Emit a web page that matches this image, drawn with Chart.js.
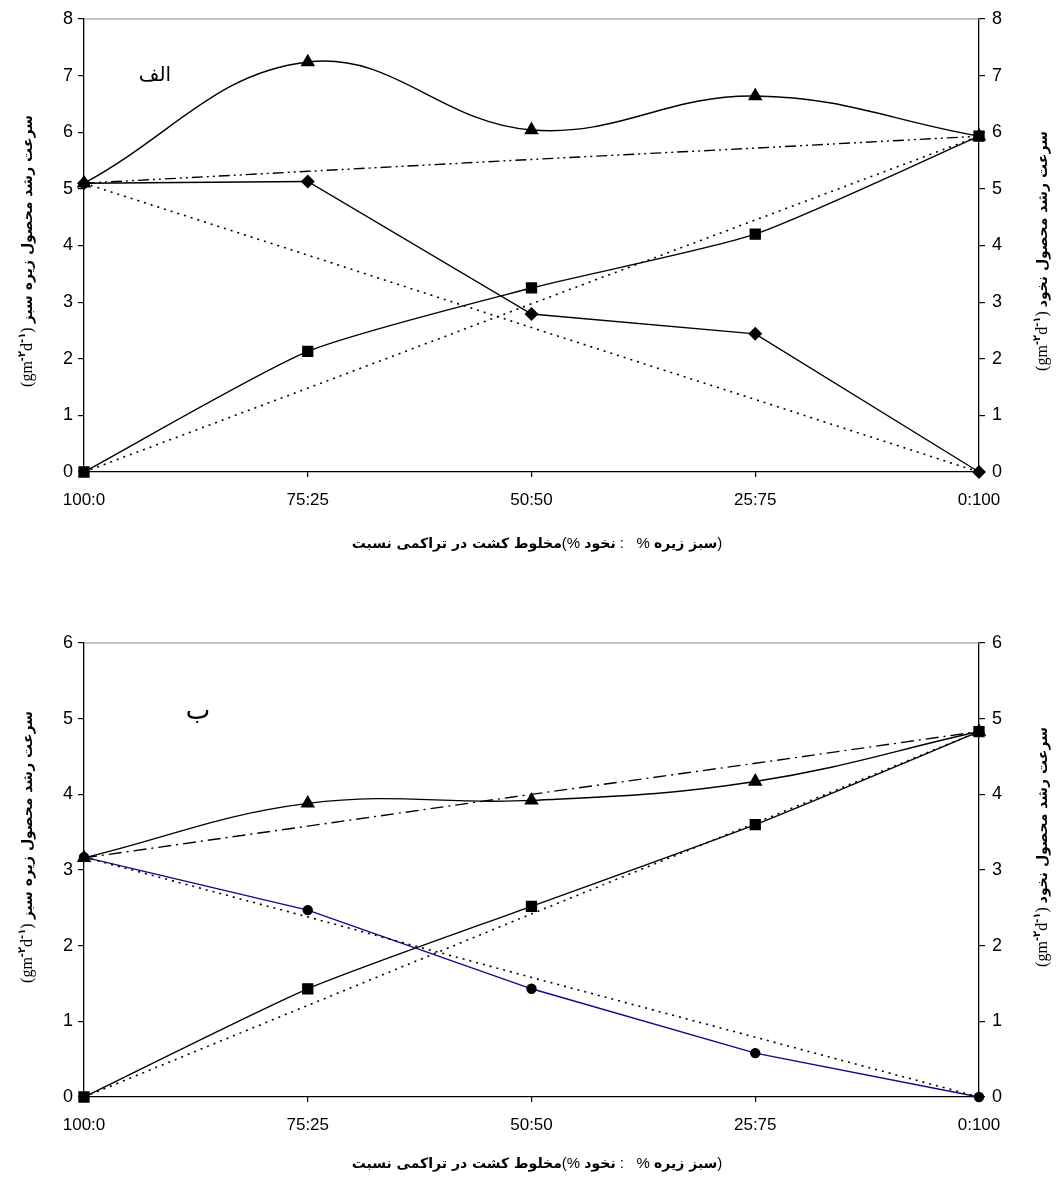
<!DOCTYPE html>
<html>
<head>
<meta charset="utf-8">
<script src="https://cdn.jsdelivr.net/npm/chart.js@4.4.0/dist/chart.umd.min.js"></script>
<style>
  body { margin: 0; background: #fff; width: 1059px; height: 1186px; position: relative; overflow: hidden; }
  canvas { position: absolute; left: 0; }
  #chartA { top: 0; }
  #chartB { top: 580px; }
</style>
</head>
<body>
<canvas id="chartA" width="1059" height="560"></canvas>
<canvas id="chartB" width="1059" height="606"></canvas>
<script>
// mixing ratios (chickpea : cumin)
const ratios = ["100:0", "75:25", "50:50", "25:75", "0:100"];

// panel الف
const totalA = [5.1, 7.24, 6.04, 6.64, 5.93];
const totalExpA = [5.1, 5.31, 5.52, 5.72, 5.93];
const chickpeaA = [5.1, 5.13, 2.79, 2.44, 0];
const chickpeaExpA = [5.1, 3.83, 2.55, 1.28, 0];
const cuminA = [0, 2.13, 3.25, 4.2, 5.93];
const cuminExpA = [0, 1.48, 2.97, 4.45, 5.93];

// panel ب
const totalB = [3.16, 3.88, 3.92, 4.17, 4.83];
const totalExpB = [3.16, 3.58, 4.0, 4.41, 4.83];
const chickpeaB = [3.17, 2.47, 1.43, 0.58, 0];
const chickpeaExpB = [3.17, 2.38, 1.58, 0.79, 0];
const cuminB = [0, 1.43, 2.52, 3.6, 4.83];
const cuminExpB = [0, 1.21, 2.42, 3.62, 4.83];

const persianFont = "DejaVu Sans";

function drawYTitle(ctx, x, y, persian) {
  ctx.save();
  ctx.translate(x, y);
  ctx.rotate(-Math.PI / 2);
  ctx.fillStyle = "#000";
  ctx.textBaseline = "alphabetic";
  ctx.textAlign = "left";
  const parts = [
    { t: "(gm", f: "16px 'Liberation Serif'", dy: 0 },
    { t: "-۲", f: "bold 10px " + persianFont, dy: -7 },
    { t: "d", f: "16px 'Liberation Serif'", dy: 0 },
    { t: "-۱", f: "bold 10px " + persianFont, dy: -7 },
    { t: ") ", f: "16px 'Liberation Serif'", dy: 0 },
    { t: persian, f: "bold 14px " + persianFont, dy: 0 }
  ];
  let total = 0;
  parts.forEach(p => { ctx.font = p.f; p.w = ctx.measureText(p.t).width; total += p.w; });
  let px = -total / 2;
  parts.forEach(p => {
    ctx.font = p.f;
    ctx.fillText(p.t, px, 5 + p.dy);
    px += p.w;
  });
  ctx.restore();
}

function drawXTitle(ctx, cx, y) {
  const bold = "bold 14px " + persianFont;
  const reg = "15px 'Liberation Sans'";
  // words laid out left to right as in the original figure
  const parts = [
    ["نسبت", bold], [" ", bold], ["تراکمی", bold], [" ", bold], ["در", bold], [" ", bold],
    ["کشت", bold], [" ", bold], ["مخلوط", bold], ["(%", reg], [" ", reg], ["نخود", bold],
    [" :   % ", reg], ["زیره", bold], [" ", bold], ["سبز", bold], [")", reg]
  ];
  ctx.save();
  ctx.fillStyle = "#000";
  ctx.textBaseline = "alphabetic";
  ctx.textAlign = "left";
  let total = 0;
  const widths = parts.map(p => { ctx.font = p[1]; const w = ctx.measureText(p[0]).width; total += w; return w; });
  let px = cx - total / 2;
  parts.forEach((p, i) => {
    ctx.font = p[1];
    ctx.fillText(p[0], px, y);
    px += widths[i];
  });
  ctx.restore();
}

function titlesPlugin(panel) {
  return {
    id: "titles",
    afterDraw(chart) {
      const ctx = chart.ctx;
      const a = chart.chartArea;
      // top frame line
      ctx.save();
      ctx.strokeStyle = "#8c8c8c";
      ctx.lineWidth = 1.2;
      ctx.beginPath();
      ctx.moveTo(a.left, a.top);
      ctx.lineTo(a.right, a.top);
      ctx.stroke();
      ctx.restore();

      drawYTitle(ctx, 27, panel.yTitleY, "سرعت رشد محصول زیره سبز");
      drawYTitle(ctx, 1042, panel.yTitleY, "سرعت رشد محصول نخود");
      drawXTitle(ctx, 537, panel.xTitleY);

      ctx.save();
      ctx.fillStyle = "#000";
      ctx.font = panel.letterSize + "px " + persianFont;
      ctx.textAlign = "center";
      ctx.textBaseline = "middle";
      ctx.fillText(panel.letter, panel.letterX, panel.letterY);
      ctx.restore();
    }
  };
}

function line(data, opts) {
  return Object.assign({
    data: data,
    borderColor: "#000",
    borderWidth: 1.4,
    pointBackgroundColor: "#000",
    pointBorderColor: "#000",
    pointRadius: 0,
    tension: 0,
    fill: false,
    clip: false
  }, opts);
}

function makeChart(id, datasets, yMax, panel) {
  const tickFont = { family: "Liberation Sans", size: 18 };
  const axisGrid = { display: true, drawOnChartArea: false, drawTicks: true, tickLength: 6, color: "#000", lineWidth: 1.2 };
  return new Chart(document.getElementById(id).getContext("2d"), {
    type: "line",
    data: { labels: ratios, datasets: datasets },
    options: {
      responsive: false,
      animation: false,
      layout: { padding: { top: panel.top, left: 0, right: 0, bottom: 0 } },
      plugins: { legend: { display: false }, tooltip: { enabled: false } },
      scales: {
        x: {
          offset: false,
          grid: Object.assign({}, axisGrid, { tickLength: 5 }),
          border: { color: "#000", width: 1.3 },
          ticks: { color: "#000", font: { family: "Liberation Sans", size: 17 }, padding: 13, maxRotation: 0, autoSkip: false },
          afterFit: s => { s.height = panel.xHeight; }
        },
        y: {
          position: "left",
          min: 0, max: yMax,
          grid: axisGrid,
          border: { color: "#000", width: 1.3 },
          ticks: { color: "#000", font: tickFont, stepSize: 1, padding: 5 },
          afterFit: s => { s.width = 84; }
        },
        y2: {
          position: "right",
          min: 0, max: yMax,
          grid: axisGrid,
          border: { color: "#000", width: 1.3 },
          ticks: { color: "#000", font: tickFont, stepSize: 1, padding: 7 },
          afterFit: s => { s.width = 80; }
        }
      }
    },
    plugins: [titlesPlugin(panel)]
  });
}

window.onload = () => {
  makeChart("chartA", [
    line(totalExpA, { borderDash: [11, 4, 2, 4, 2, 4] }),
    line(chickpeaExpA, { borderDash: [2, 5], borderWidth: 1.6 }),
    line(cuminExpA, { borderDash: [2, 5], borderWidth: 1.6 }),
    line(totalA, { tension: 0.4, pointStyle: "triangle", pointRadius: 7 }),
    line(chickpeaA, { pointStyle: "rectRot", pointRadius: 6 }),
    line(cuminA, { tension: 0.2, pointStyle: "rect", pointRadius: 7 })
  ], 8, { top: 19, xHeight: 88, yTitleY: 251, xTitleY: 548, letter: "الف", letterSize: 20, letterX: 155, letterY: 76 });

  makeChart("chartB", [
    line(totalExpB, { borderDash: [13, 5, 2, 5] }),
    line(chickpeaExpB, { borderDash: [2, 5], borderWidth: 1.6 }),
    line(cuminExpB, { borderDash: [2, 5], borderWidth: 1.6 }),
    line(totalB, { tension: 0.4, pointStyle: "triangle", pointRadius: 7 }),
    line(chickpeaB, { borderColor: "#0b0b8c", pointStyle: "circle", pointRadius: 4.5 }),
    line(cuminB, { tension: 0.2, pointStyle: "rect", pointRadius: 7 })
  ], 6, { top: 63, xHeight: 89, yTitleY: 267, xTitleY: 588, letter: "ب", letterSize: 26, letterX: 198, letterY: 712 - 580 });
};
</script>
</body>
</html>
